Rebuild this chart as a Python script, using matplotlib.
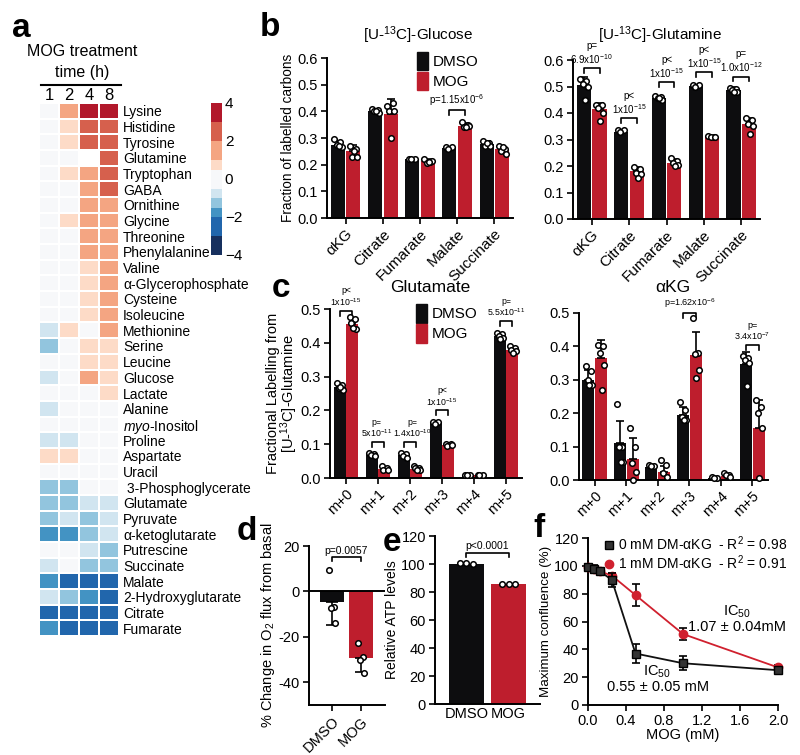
import numpy as np
import matplotlib as mpl
mpl.use('Agg')
import matplotlib.pyplot as plt
from matplotlib.colors import ListedColormap, BoundaryNorm
from matplotlib.patches import Patch
from matplotlib.lines import Line2D
from matplotlib.cm import ScalarMappable

plt.rcParams['font.family'] = ['Liberation Sans', 'DejaVu Sans']
plt.rcParams['mathtext.fontset'] = 'custom'
plt.rcParams['mathtext.rm'] = 'Liberation Sans'
plt.rcParams['mathtext.it'] = 'Liberation Sans:italic'
plt.rcParams['mathtext.bf'] = 'Liberation Sans:bold'
plt.rcParams['axes.unicode_minus'] = False
plt.rcParams['axes.linewidth'] = 1.4
plt.rcParams['xtick.major.width'] = 1.2
plt.rcParams['ytick.major.width'] = 1.2
plt.rcParams['xtick.major.size'] = 4
plt.rcParams['ytick.major.size'] = 4
plt.rcParams['xtick.major.pad'] = 2.5
plt.rcParams['ytick.major.pad'] = 2.5
plt.rcParams['font.size'] = 10

BLACK = '#0d0d0f'
RED = '#be1e2d'

# ---------------- data ----------------
# a: heatmap (log2 fold change, binned)
metabolites = ['Lysine', 'Histidine', 'Tyrosine', 'Glutamine', 'Tryptophan', 'GABA',
               'Ornithine', 'Glycine', 'Threonine', 'Phenylalanine', 'Valine',
               'α-Glycerophosphate', 'Cysteine', 'Isoleucine', 'Methionine', 'Serine',
               'Leucine', 'Glucose', 'Lactate', 'Alanine', r'$\it{myo}$-Inositol',
               'Proline', 'Aspartate', 'Uracil', ' 3-Phosphoglycerate', 'Glutamate',
               'Pyruvate', 'α-ketoglutarate', 'Putrescine', 'Succinate', 'Malate',
               '2-Hydroxyglutarate', 'Citrate', 'Fumarate']
time_labels = ['1', '2', '4', '8']
fc_1h = [0, 0, 0, 0, 0, 0, 0, 0, 0, 0, 0, 0, 0, 0, -0.75, -1.25, 0, -0.75, 0, -0.75, 0,
         -0.75, 0.75, 0, -1.25, -1.25, -1.25, -1.75, 0, -0.75, -1.75, -0.75, -2.5, -1.75]
fc_2h = [1.5, 0.75, 0.75, 0, 0.75, 0, 0, 0.75, 0, 0, 0, 0, 0, 0, 0.75, 0, 0, 0, 0, 0, 0,
         -0.75, 0.75, 0, -1.25, -1.25, -0.75, -1.75, 0, 0, -2.5, -1.25, -2.5, -2.5]
fc_4h = [3.5, 2.5, 2.5, np.nan, 1.5, 1.5, 1.5, 1.5, 1.5, 1.5, 0.75, 0.75, 0.75, 0.75, 0,
         0.75, 0.75, 1.5, 0, 0, 0, 0, 0, 0, 0, -0.75, -1.25, -1.25, -0.75, -1.25, -2.5,
         -1.75, -2.5, -2.5]
fc_8h = [3.5, 2.5, 2.5, 2.5, 2.5, 2.5, 1.5, 1.5, 1.5, 1.5, 1.5, 1.5, 1.5, 1.5, 1.5,
         0.75, 0.75, 0.75, 0.75, 0, 0, 0, 0, 0, 0, -0.75, -0.75, -0.75, -1.25, -1.25,
         -2.5, -2.5, -2.5, -2.5]
cbar_bounds = [-4, -3, -2, -1.5, -1, -0.5, 0.5, 1, 2, 3, 4]
cbar_colors = ['#17305e', '#2166ac', '#4393c3', '#92c5de', '#d1e5f0', '#f7f8fa',
               '#fddbc7', '#f4a582', '#d6604d', '#b2182b']

# b: fraction of labelled carbons
tca = ['αKG', 'Citrate', 'Fumarate', 'Malate', 'Succinate']
glc_dmso = [0.275, 0.40, 0.22, 0.262, 0.278]
glc_dmso_err = [0.014, 0.008, 0.003, 0.003, 0.012]
glc_dmso_pts = [[0.298, 0.285, 0.275, 0.265, 0.27], [0.41, 0.405, 0.40, 0.395, 0.40],
                [0.22, 0.22, 0.22], [0.265, 0.265, 0.26], [0.29, 0.28, 0.27, 0.27, 0.28]]
glc_mog = [0.252, 0.39, 0.213, 0.345, 0.258]
glc_mog_err = [0.022, 0.055, 0.008, 0.01, 0.012]
glc_mog_pts = [[0.27, 0.26, 0.23, 0.23, 0.25], [0.42, 0.43, 0.40, 0.40, 0.30],
               [0.22, 0.21, 0.205, 0.215, 0.21], [0.36, 0.35, 0.34, 0.345, 0.34],
               [0.27, 0.26, 0.25, 0.24, 0.265]]
gln_dmso = [0.505, 0.33, 0.455, 0.502, 0.487]
gln_dmso_err = [0.03, 0.003, 0.008, 0.004, 0.01]
gln_dmso_pts = [[0.53, 0.52, 0.51, 0.50, 0.45], [0.335, 0.335, 0.33],
                [0.465, 0.46, 0.455, 0.45, 0.455], [0.505, 0.505, 0.50],
                [0.495, 0.49, 0.485, 0.48, 0.48]]
gln_mog = [0.415, 0.18, 0.212, 0.31, 0.36]
gln_mog_err = [0.022, 0.018, 0.015, 0.005, 0.022]
gln_mog_pts = [[0.43, 0.43, 0.42, 0.40, 0.37], [0.195, 0.19, 0.175, 0.17, 0.155],
               [0.23, 0.22, 0.21, 0.205, 0.20], [0.315, 0.31, 0.31, 0.31],
               [0.38, 0.375, 0.36, 0.35, 0.32]]

# c: isotopologue distributions from [U-13C]-glutamine
isotop = ['m+0', 'm+1', 'm+2', 'm+3', 'm+4', 'm+5']
glu_dmso = [0.268, 0.07, 0.068, 0.162, 0.01, 0.42]
glu_dmso_err = [0.01, 0.004, 0.005, 0.003, 0.002, 0.008]
glu_dmso_pts = [[0.28, 0.275, 0.265, 0.26, 0.27], [0.075, 0.07, 0.068, 0.065],
                [0.075, 0.07, 0.065, 0.06], [0.165, 0.165, 0.16], [0.01, 0.01, 0.01],
                [0.43, 0.425, 0.42, 0.415, 0.41]]
glu_mog = [0.455, 0.028, 0.028, 0.098, 0.01, 0.38]
glu_mog_err = [0.015, 0.004, 0.004, 0.003, 0.002, 0.008]
glu_mog_pts = [[0.475, 0.47, 0.46, 0.44, 0.445], [0.035, 0.03, 0.025, 0.025],
               [0.035, 0.03, 0.03, 0.025, 0.025], [0.10, 0.10, 0.095, 0.097],
               [0.01, 0.01, 0.01], [0.39, 0.385, 0.38, 0.375, 0.37]]
akg_dmso = [0.30, 0.11, 0.038, 0.195, 0.005, 0.348]
akg_dmso_err = [0.03, 0.068, 0.005, 0.025, 0.003, 0.035]
akg_dmso_pts = [[0.34, 0.325, 0.30, 0.285, 0.285], [0.228, 0.10, 0.10, 0.055, 0.055],
                [0.045, 0.042, 0.042], [0.235, 0.21, 0.19, 0.18, 0.18],
                [0.01, 0.005, 0.005], [0.37, 0.365, 0.36, 0.35, 0.28]]
akg_mog = [0.365, 0.062, 0.025, 0.375, 0.012, 0.155]
akg_mog_err = [0.055, 0.063, 0.018, 0.068, 0.004, 0.085]
akg_mog_pts = [[0.405, 0.40, 0.38, 0.345, 0.27], [0.157, 0.10, 0.05, 0.025, 0.0],
               [0.06, 0.045, 0.02, 0.01], [0.485, 0.38, 0.378, 0.33, 0.305],
               [0.02, 0.015, 0.015, 0.01], [0.24, 0.22, 0.20, 0.155, 0.005]]

# d: O2 flux
groups = ['DMSO', 'MOG']
o2_mean = [-4.75, -29.5]
o2_err = [10, 6]
o2_pts = [[9.5, -7, -7.5, -14], [-22.5, -29, -30, -36]]

# e: ATP
atp_mean = [100, 85.5]
atp_pts = [[100.5, 100.5, 100], [85.5, 85.5, 85.5]]

# f: confluence
mog_conc = [0, 0.0625, 0.125, 0.25, 0.5, 1.0, 2.0]
conf_0mm = [99, 97.5, 96, 90, 37, 30, 25]
conf_0mm_err = [1, 3, 1.5, 5, 7, 5, 2]
conf_1mm = [99, 98, 96, 93, 79, 51, 27]
conf_1mm_err = [1, 2, 1.5, 2, 8, 4, 1.5]

# ---------------- figure ----------------
W, H = 800, 755
fig = plt.figure(figsize=(W / 100, H / 100), dpi=100)


def px_axes(x0, y0, x1, y1):
    return fig.add_axes([x0 / W, 1 - y1 / H, (x1 - x0) / W, (y1 - y0) / H])


def ftext(x, y, s, **kw):
    return fig.text(x / W, 1 - y / H, s, **kw)


def style(ax):
    for s in ['top', 'right']:
        ax.spines[s].set_visible(False)
    ax.tick_params(direction='out')


JIT = np.array([-0.09, 0.07, -0.03, 0.10, 0.02, -0.06])


def dots(ax, x, pts):
    pts = np.asarray(pts)
    ax.plot(x + JIT[:len(pts)], pts, 'o', mfc='white', mec='black', ms=4, mew=1.1,
            zorder=4, clip_on=False)


def bars(ax, dm, dm_err, dm_pts, mg, mg_err, mg_pts, w=0.38, off=0.21):
    x = np.arange(len(dm))
    ax.bar(x - off, dm, w, color=BLACK, zorder=2)
    ax.bar(x + off, mg, w, color=RED, zorder=2)
    ax.errorbar(x - off, dm, yerr=[np.zeros(len(dm)), dm_err], fmt='none', ecolor='black',
                elinewidth=1.2, capsize=3, capthick=1.2, zorder=3)
    ax.errorbar(x + off, mg, yerr=[np.zeros(len(mg)), mg_err], fmt='none', ecolor='black',
                elinewidth=1.2, capsize=3, capthick=1.2, zorder=3)
    for i in range(len(dm)):
        dots(ax, x[i] - off, dm_pts[i])
        dots(ax, x[i] + off, mg_pts[i])
    return x


def bracket(ax, x1, x2, y, txt, h, fs=7, dx=0):
    ax.plot([x1, x1, x2, x2], [y - h, y, y, y - h], color='black', lw=1.2, clip_on=False)
    ax.text((x1 + x2) / 2 + dx, y + h * 0.5, txt, ha='center', va='bottom', fontsize=fs,
            linespacing=1.1, clip_on=False)


def legend_bars(ax, anchor):
    ax.legend(handles=[Patch(color=BLACK, label='DMSO'), Patch(color=RED, label='MOG')],
              loc='upper left', bbox_to_anchor=anchor, frameon=False, fontsize=11,
              handlelength=0.7, handleheight=1.5, handletextpad=0.3, labelspacing=0.1,
              borderpad=0, borderaxespad=0)


# ----- a: heatmap -----
cmap = ListedColormap(cbar_colors)
norm = BoundaryNorm(cbar_bounds, cmap.N)
heat = np.array([fc_1h, fc_2h, fc_4h, fc_8h]).T
heat = np.ma.masked_invalid(heat)
axh = px_axes(39, 103, 119, 636)
axh.pcolormesh(np.arange(5), np.arange(len(metabolites) + 1), heat, cmap=cmap, norm=norm,
               edgecolors='white', linewidth=1.2)
axh.set_xlim(0, 4)
axh.set_ylim(len(metabolites), 0)
axh.set_yticks(np.arange(len(metabolites)) + 0.5)
axh.set_yticklabels(metabolites, fontsize=10)
axh.yaxis.tick_right()
axh.set_xticks(np.arange(4) + 0.5)
axh.set_xticklabels(time_labels, fontsize=12)
axh.xaxis.tick_top()
axh.tick_params(length=0, pad=0)
axh.tick_params(axis='y', pad=3)
for s in axh.spines.values():
    s.set_visible(False)
ftext(82, 51, 'MOG treatment', ha='center', va='center', fontsize=11.5)
ftext(82, 72, 'time (h)', ha='center', va='center', fontsize=11.5)
fig.add_artist(Line2D([41 / W, 121 / W], [1 - 85 / H, 1 - 85 / H], color='black', lw=1.5))

cax = px_axes(211, 103, 222, 255)
cb = fig.colorbar(ScalarMappable(norm=norm, cmap=cmap), cax=cax, spacing='proportional',
                  ticks=[4, 2, 0, -2, -4])
cb.ax.minorticks_off()
cb.ax.set_yticklabels(['4', '2', '0', '\u22122', '\u22124'], fontsize=11)
cb.outline.set_visible(False)
cb.ax.tick_params(which='both', length=0, pad=2)

# ----- b: glucose -----
axb1 = px_axes(327, 58, 513, 218)
style(axb1)
x = bars(axb1, glc_dmso, glc_dmso_err, glc_dmso_pts, glc_mog, glc_mog_err, glc_mog_pts)
axb1.set_xlim(-0.5, 4.5)
axb1.set_ylim(0, 0.6)
axb1.set_yticks(np.arange(0, 0.61, 0.1))
axb1.set_yticklabels(['%.1f' % v for v in np.arange(0, 0.61, 0.1)], fontsize=10.5)
axb1.set_xticks(x)
axb1.set_xticklabels(tca, rotation=45, ha='right', rotation_mode='anchor', fontsize=11)
axb1.set_ylabel('Fraction of labelled carbons', fontsize=9.8, labelpad=2)
ftext(418, 35, '[U-$^{13}$C]-Glucose', ha='center', va='center', fontsize=11)
bracket(axb1, 3 - 0.21, 3 + 0.21, 0.405, 'p=1.15x10$^{-6}$', 0.018)
legend_bars(axb1, (0.485, 1.04))

# ----- b: glutamine -----
axb2 = px_axes(573, 60, 760, 219)
style(axb2)
x = bars(axb2, gln_dmso, gln_dmso_err, gln_dmso_pts, gln_mog, gln_mog_err, gln_mog_pts)
axb2.set_xlim(-0.5, 4.5)
axb2.set_ylim(0, 0.6)
axb2.set_yticks(np.arange(0, 0.61, 0.1))
axb2.set_yticklabels(['%.1f' % v for v in np.arange(0, 0.61, 0.1)], fontsize=10.5)
axb2.set_xticks(x)
axb2.set_xticklabels(tca, rotation=45, ha='right', rotation_mode='anchor', fontsize=11)
ftext(660, 35, '[U-$^{13}$C]-Glutamine', ha='center', va='center', fontsize=11)
gln_p = ['p=\n6.9x10$^{-10}$', 'p<\n1x10$^{-15}$', 'p<\n1x10$^{-15}$', 'p<\n1x10$^{-15}$',
         'p=\n1.0x10$^{-12}$']
gln_py = [0.57, 0.38, 0.517, 0.555, 0.537]
for i in range(5):
    bracket(axb2, i - 0.21, i + 0.21, gln_py[i], gln_p[i], 0.018)

# ----- c: glutamate -----
axc1 = px_axes(330, 309, 522, 478)
style(axc1)
x = bars(axc1, glu_dmso, glu_dmso_err, glu_dmso_pts, glu_mog, glu_mog_err, glu_mog_pts,
         w=0.38, off=0.2)
axc1.set_xlim(-0.5, 5.5)
axc1.set_ylim(0, 0.5)
axc1.set_yticks(np.arange(0, 0.51, 0.1))
axc1.set_yticklabels(['%.1f' % v for v in np.arange(0, 0.51, 0.1)], fontsize=10.5)
axc1.set_xticks(x)
axc1.set_xticklabels(isotop, rotation=45, ha='right', rotation_mode='anchor', fontsize=10.5)
axc1.set_ylabel('Fractional Labelling from\n[U-$^{13}$C]-Glutamine', fontsize=10.5,
                labelpad=0, linespacing=0.95)
ftext(430, 287, 'Glutamate', ha='center', va='center', fontsize=12.5)
glu_p = {0: ('p<\n1x10$^{-15}$', 0.495, 0), 1: ('p=\n5x10$^{-11}$', 0.107, -0.06),
         2: ('p=\n1.4x10$^{-10}$', 0.107, 0.06), 3: ('p<\n1x10$^{-15}$', 0.2, 0),
         5: ('p=\n5.5x10$^{-11}$', 0.465, 0)}
for i, (t, y, dx) in glu_p.items():
    bracket(axc1, i - 0.2, i + 0.2, y, t, 0.015, fs=6.3, dx=dx)
legend_bars(axc1, (0.45, 1.03))

# ----- c: aKG -----
axc2 = px_axes(579, 313, 768, 480)
style(axc2)
x = bars(axc2, akg_dmso, akg_dmso_err, akg_dmso_pts, akg_mog, akg_mog_err, akg_mog_pts,
         w=0.38, off=0.2)
axc2.set_xlim(-0.5, 5.5)
axc2.set_ylim(0, 0.5)
axc2.set_yticks(np.arange(0, 0.51, 0.1))
axc2.set_yticklabels(['%.1f' % v for v in np.arange(0, 0.51, 0.1)], fontsize=10.5)
axc2.set_xticks(x)
axc2.set_xticklabels(isotop, rotation=45, ha='right', rotation_mode='anchor', fontsize=10.5)
ftext(673, 287, 'αKG', ha='center', va='center', fontsize=12.5)
bracket(axc2, 3 - 0.2, 3 + 0.2, 0.5, 'p=1.62x10$^{-6}$', 0.015, fs=6.5)
bracket(axc2, 5 - 0.2, 5 + 0.2, 0.405, 'p=\n3.4x10$^{-7}$', 0.015, fs=6.5)

# ----- d: O2 flux -----
axd = px_axes(309, 546, 385, 705)
style(axd)
xd = np.arange(2)
axd.bar(xd, o2_mean, 0.83, color=[BLACK, RED], zorder=2)
axd.errorbar(xd, o2_mean, yerr=[o2_err, [0, 0]], fmt='none', ecolor='black', elinewidth=1.2,
             capsize=4, capthick=1.2, zorder=3)
for i in range(2):
    dots(axd, xd[i] + np.zeros(1), o2_pts[i])
axd.axhline(0, color='black', lw=1.4, zorder=5)
axd.set_xlim(-0.79, 1.83)
axd.set_ylim(-50, 20)
axd.set_yticks([20, 0, -20, -40])
axd.set_yticklabels(['20', '0', '-20', '-40'], fontsize=10.5)
axd.set_xticks(xd)
axd.set_xticklabels(groups, rotation=45, ha='right', rotation_mode='anchor', fontsize=10.5)
axd.set_ylabel('% Change in O$_2$ flux from basal', fontsize=10.5, labelpad=1)
bracket(axd, 0, 1, 15, 'p=0.0057', 1.5, fs=7.5)

# ----- e: ATP -----
axe = px_axes(435, 536, 540, 704)
style(axe)
axe.bar(xd, atp_mean, 0.83, color=[BLACK, RED], zorder=2)
for i in range(2):
    axe.plot(xd[i] + np.array([-0.15, 0, 0.15]), atp_pts[i], 'o', mfc='white', mec='black',
             ms=4, mew=1.1, zorder=4)
axe.set_xlim(-0.75, 1.75)
axe.set_ylim(0, 120)
axe.set_yticks(np.arange(0, 121, 20))
axe.set_yticklabels([str(v) for v in range(0, 121, 20)], fontsize=10.5)
axe.set_xticks(xd)
axe.set_xticklabels(groups, fontsize=10.5)
axe.tick_params(axis='x', length=0)
axe.set_ylabel('Relative ATP levels', fontsize=10, labelpad=2)
bracket(axe, 0, 1, 108, 'p<0.0001', 3, fs=7.5)

# ----- f: confluence -----
axf = px_axes(588, 538, 778, 705)
style(axf)
axf.errorbar(mog_conc, conf_1mm, yerr=conf_1mm_err, color='#d0202e', marker='o', ms=6,
             lw=1.3, ecolor='black', elinewidth=1.2, capsize=3, capthick=1.2, zorder=3,
             clip_on=False)
axf.errorbar(mog_conc, conf_0mm, yerr=conf_0mm_err, color='#111111', marker='s', ms=6,
             mfc='#333333', mec='black', lw=1.3, ecolor='black', elinewidth=1.2, capsize=3,
             capthick=1.2, zorder=4, clip_on=False)
axf.set_xlim(0, 2.0)
axf.set_ylim(0, 120)
axf.set_xticks(np.arange(0, 2.01, 0.4))
axf.set_xticklabels(['%.1f' % v for v in np.arange(0, 2.01, 0.4)], fontsize=10.5)
axf.set_yticks(np.arange(0, 121, 20))
axf.set_yticklabels([str(v) for v in range(0, 121, 20)], fontsize=10.5)
axf.set_xlabel('MOG (mM)', fontsize=10.5, labelpad=0)
axf.set_ylabel('Maximum confluence (%)', fontsize=9.6, labelpad=2)
axf.text(1.57, 67, 'IC$_{50}$', ha='center', va='center', fontsize=10.5)
axf.text(1.57, 56, '1.07 ± 0.04mM', ha='center', va='center', fontsize=10.5)
axf.text(0.73, 24, 'IC$_{50}$', ha='center', va='center', fontsize=10.5)
axf.text(0.74, 13, '0.55 ± 0.05 mM', ha='center', va='center', fontsize=10.5)
leg_h = [Line2D([], [], color='none', marker='s', ms=6, mfc='#333333', mec='black',
                label='0 mM DM-αKG  - R$^2$ = 0.98'),
         Line2D([], [], color='none', marker='o', ms=6, mfc='#d0202e', mec='#d0202e',
                label='1 mM DM-αKG  - R$^2$ = 0.91')]
axf.legend(handles=leg_h, loc='upper left', bbox_to_anchor=(605 / W, 1 - 534 / H),
           bbox_transform=fig.transFigure, frameon=False, fontsize=10, handlelength=0.6,
           handletextpad=0.3, labelspacing=0.05, borderpad=0, borderaxespad=0)

# ----- panel letters -----
for lab, px, py in [('a', 12, 37), ('b', 260, 36), ('c', 272, 297), ('d', 237, 540),
                    ('e', 383, 551), ('f', 533, 537)]:
    ftext(px, py, lab, fontsize=24, fontweight='bold', va='baseline')

fig.savefig('out.png', dpi=100)
